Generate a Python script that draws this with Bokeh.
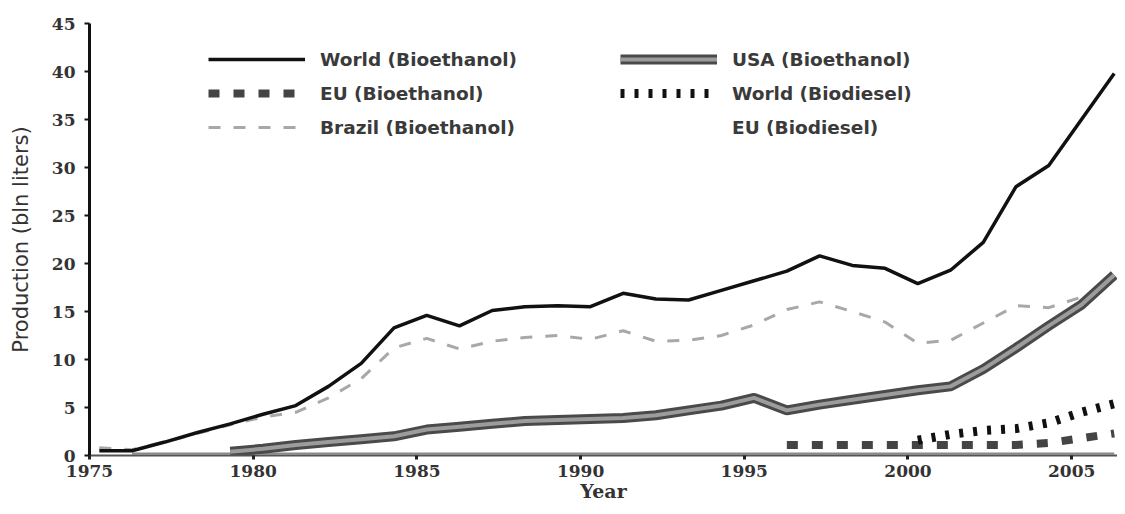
from bokeh.plotting import figure
from bokeh.models import (Range1d, Legend, LegendItem, FixedTicker,
                          CustomJSTickFormatter)
from bokeh.embed import file_html
from bokeh.resources import INLINE

# ---------------- data (bln liters) ----------------
years = list(range(1975, 2007))

world_ethanol = [0.5, 0.5, 1.4, 2.4, 3.3, 4.3, 5.2, 7.2, 9.6, 13.3, 14.6, 13.5,
                 15.1, 15.5, 15.6, 15.5, 16.9, 16.3, 16.2, 17.2, 18.2, 19.2,
                 20.8, 19.8, 19.5, 17.9, 19.3, 22.2, 28.0, 30.2, 35.0, 39.8]

brazil_ethanol = [0.8, 0.6, 1.4, 2.3, 3.2, 4.0, 4.5, 6.0, 8.0, 11.2, 12.2, 11.1,
                  11.9, 12.3, 12.5, 12.1, 13.0, 11.9, 12.0, 12.5, 13.6, 15.2,
                  16.0, 15.0, 13.9, 11.7, 12.0, 13.8, 15.6, 15.4, 16.5, 18.4]

usa_years = list(range(1979, 2007))
usa_ethanol = [0.4, 0.7, 1.1, 1.4, 1.7, 2.0, 2.7, 3.0, 3.3, 3.6, 3.7, 3.8,
               3.9, 4.2, 4.7, 5.2, 6.0, 4.7, 5.3, 5.8, 6.3, 6.8, 7.2, 9.0,
               11.2, 13.5, 15.7, 18.8]

eu_eth_years = list(range(1996, 2007))
eu_ethanol = [1.1, 1.1, 1.1, 1.1, 1.1, 1.1, 1.1, 1.1, 1.3, 1.8, 2.3]

wb_years = list(range(2000, 2007))
world_biodiesel = [1.6, 2.2, 2.6, 2.8, 3.4, 4.5, 5.4]

eu_bd_years = list(range(1976, 2007))
eu_biodiesel = [0.2] * len(eu_bd_years)

tick_years = [1975, 1980, 1985, 1990, 1995, 2000, 2005]
y_ticks = [0, 5, 10, 15, 20, 25, 30, 35, 40, 45]

SHIFT = 0.3  # category labels sit slightly left of the data points

p = figure(width=1117, height=506,
           x_range=Range1d(years[0] - SHIFT, years[-1] + 0.1),
           y_range=Range1d(0, 45),
           output_backend="svg", toolbar_location=None,
           min_border_left=89, min_border_right=0,
           min_border_top=23, min_border_bottom=51)
p.outline_line_color = None
p.xgrid.visible = False
p.ygrid.visible = False
p.background_fill_color = "white"
p.border_fill_color = "white"

# EU biodiesel along the axis
r_eubd = p.line(eu_bd_years, eu_biodiesel, line_color="#8a8a8a", line_width=2)
r_eubd_proxy = p.line(eu_bd_years, eu_biodiesel, line_alpha=0)

r_brazil = p.line(years, brazil_ethanol, line_color="#a8a8a8", line_width=3,
                  line_dash="12 13")
r_usa_o = p.line(usa_years, usa_ethanol, line_color="#4a4a4a", line_width=10)
r_usa_i = p.line(usa_years, usa_ethanol, line_color="#9c9c9c", line_width=4)
r_world = p.line(years, world_ethanol, line_color="#111111", line_width=3.5)
r_eu = p.line(eu_eth_years, eu_ethanol, line_color="#444444", line_width=8,
              line_dash="11 14")
r_wb = p.line(wb_years, world_biodiesel, line_color="#111111", line_width=9,
              line_dash="4 10")

# ---------------- axes ----------------
p.xaxis.ticker = FixedTicker(ticks=[t - SHIFT for t in tick_years])
p.xaxis.formatter = CustomJSTickFormatter(code="return String(Math.round(tick));")
p.xaxis.minor_tick_line_color = None
p.xaxis.major_tick_out = 4
p.xaxis.major_tick_in = 0
p.xaxis.major_tick_line_width = 3
p.xaxis.major_tick_line_color = "#222222"
p.xaxis.axis_line_color = "#555555"
p.xaxis.axis_line_width = 2
p.xaxis.major_label_text_font = "DejaVu Serif"
p.xaxis.major_label_text_font_style = "bold"
p.xaxis.major_label_text_font_size = "17px"
p.xaxis.major_label_text_color = "#333333"
p.xaxis.major_label_standoff = 5
p.xaxis.axis_label = "Year"
p.xaxis.axis_label_text_font = "DejaVu Serif"
p.xaxis.axis_label_text_font_style = "bold"
p.xaxis.axis_label_text_font_size = "19px"
p.xaxis.axis_label_text_color = "#333333"
p.xaxis.axis_label_standoff = 0

p.yaxis.ticker = FixedTicker(ticks=y_ticks)
p.yaxis.minor_tick_line_color = None
p.yaxis.major_tick_out = 5
p.yaxis.major_tick_in = 0
p.yaxis.major_tick_line_width = 2
p.yaxis.major_tick_line_color = "#111111"
p.yaxis.axis_line_color = "#111111"
p.yaxis.axis_line_width = 3
p.yaxis.major_label_text_font = "DejaVu Serif"
p.yaxis.major_label_text_font_style = "bold"
p.yaxis.major_label_text_font_size = "17px"
p.yaxis.major_label_text_color = "#333333"
p.yaxis.major_label_standoff = 9
p.yaxis.axis_label = "Production (bln liters)"
p.yaxis.axis_label_text_font = "DejaVu Sans"
p.yaxis.axis_label_text_font_style = "normal"
p.yaxis.axis_label_text_font_size = "21px"
p.yaxis.axis_label_text_color = "#333333"
p.yaxis.axis_label_standoff = 16

# ---------------- legends ----------------
def make_legend(items, loc):
    lg = Legend(items=items, location=loc, orientation="vertical",
                glyph_width=97, glyph_height=34, label_height=34,
                label_standoff=15, spacing=0, padding=0, margin=0,
                border_line_color=None, background_fill_alpha=0,
                label_text_font="DejaVu Sans", label_text_font_style="bold",
                label_text_font_size="18.5px", label_text_color="#3a3a3a")
    return lg

leg1 = make_legend([
    LegendItem(label="World (Bioethanol)", renderers=[r_world]),
    LegendItem(label="EU (Bioethanol)", renderers=[r_eu]),
    LegendItem(label="Brazil (Bioethanol)", renderers=[r_brazil]),
], (119, 311))
leg2 = make_legend([
    LegendItem(label="USA (Bioethanol)", renderers=[r_usa_o, r_usa_i]),
    LegendItem(label="World (Biodiesel)", renderers=[r_wb]),
    LegendItem(label="EU (Biodiesel)", renderers=[r_eubd_proxy]),
], (531, 311))
p.add_layout(leg1)
p.add_layout(leg2)

open("out.html", "w").write(file_html(p, INLINE))
